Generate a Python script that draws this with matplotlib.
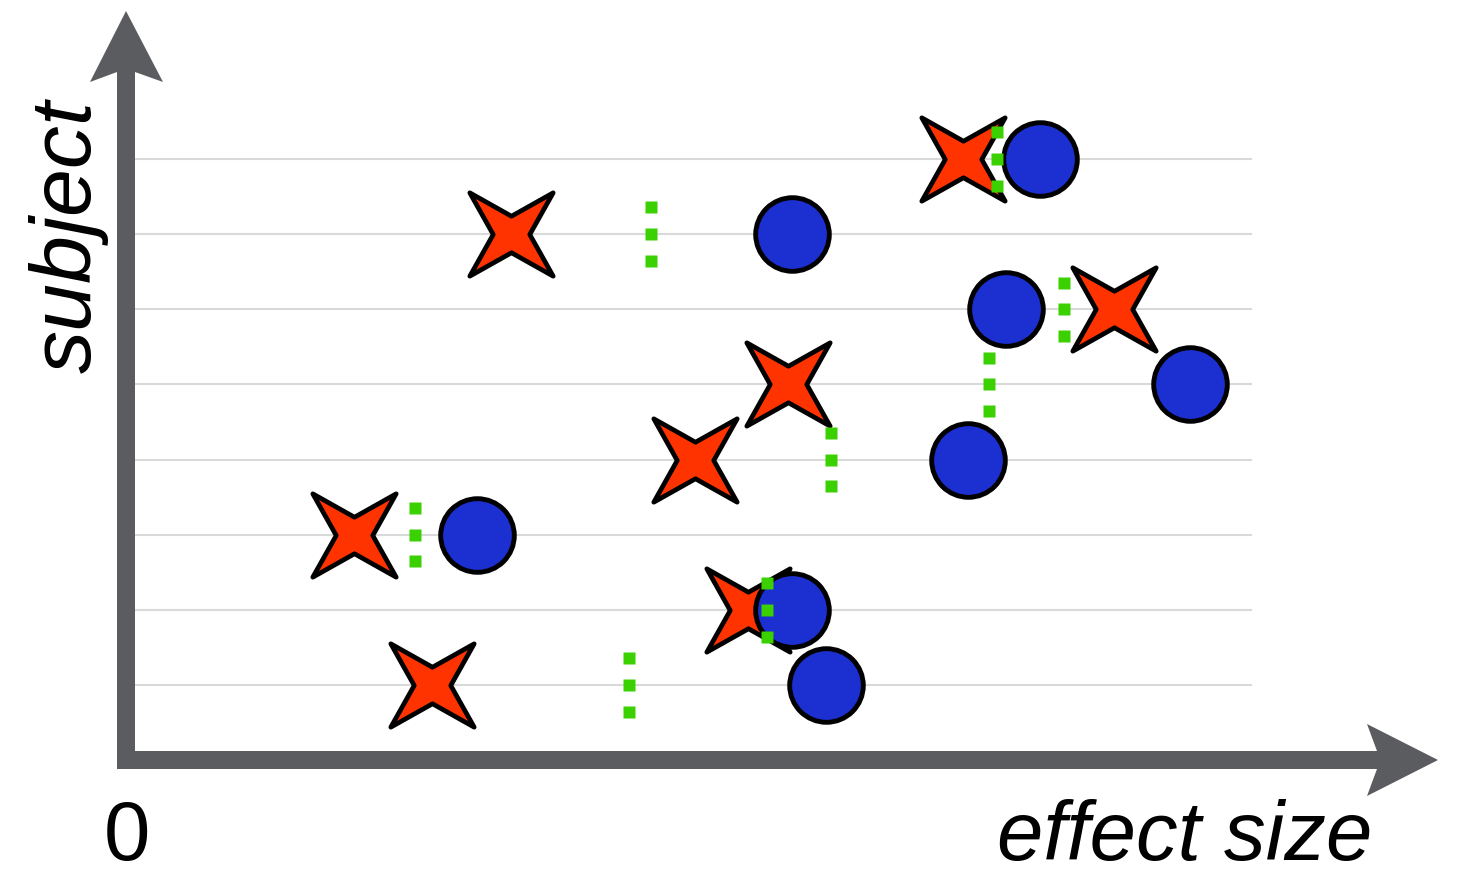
import numpy as np
import matplotlib
matplotlib.use('Agg')
import matplotlib.pyplot as plt
from matplotlib.path import Path
from matplotlib.patches import Polygon

# subject index 1 (bottom) .. 8 (top)
subjects = [1, 2, 3, 4, 5, 6, 7, 8]
# effect sizes (0 at the y axis)
star_effect = [3.06, 6.22, 2.28, 5.69, 6.62, 9.88, 3.85, 8.37]
circle_effect = [7.00, 6.66, 3.51, 8.42, 10.64, 8.80, 6.66, 9.14]
mean_effect = [5.03, 6.41, 2.89, 7.05, 8.63, 9.38, 5.25, 8.71]

W, H = 1461, 879
fig = plt.figure(figsize=(W / 100, H / 100), dpi=100)

# data axes fills the figure: 100 px per effect unit, ~75 px per subject
ax = fig.add_axes([0, 0, 1, 1])
ax.set_xlim(-1.26, (W - 126) / 100)
ystep = (686 - 160) / 7
ax.set_ylim(1 - (H - 686) / ystep, 1 + 686 / ystep)
ax.axis('off')

ax.hlines(subjects, 0.09, 11.26, color='#d9d9d9', lw=1.5, zorder=1)

# four pointed star marker
ang = np.deg2rad(45 + 45 * np.arange(8))
rad = np.where(np.arange(8) % 2 == 0, 1.0, 0.31)
verts = np.column_stack([rad * np.cos(ang), rad * np.sin(ang)])
verts = np.vstack([verts, verts[:1]])
codes = [Path.MOVETO] + [Path.LINETO] * 7 + [Path.CLOSEPOLY]
star = Path(verts, codes)

ax.plot(star_effect, subjects, ls='none', marker=star, ms=60,
        mfc='#ff3300', mec='black', mew=3.4, zorder=3)
ax.plot(circle_effect, subjects, ls='none', marker='o', ms=53,
        mfc='#1c2fd0', mec='black', mew=3.5, zorder=4)

# green dotted mean marks
for off in (-0.355, 0, 0.355):
    ax.plot(mean_effect, np.array(subjects) + off, ls='none', marker='s',
            ms=9, mfc='#3bd000', mec='none', zorder=5)

# overlay in pixel coordinates for the arrows and labels
ov = fig.add_axes([0, 0, 1, 1], facecolor='none')
ov.set_xlim(0, W)
ov.set_ylim(H, 0)
ov.axis('off')
grey = '#5b5c60'
ov.add_patch(Polygon([(117, 770), (135, 770), (135, 73), (163, 83), (126, 12),
                      (90, 83), (117, 73)], closed=True, color=grey, lw=0))
ov.add_patch(Polygon([(117, 752), (1377, 752), (1367, 725), (1438, 761),
                      (1367, 797), (1377, 770), (117, 770)], closed=True,
                     color=grey, lw=0))

font = 'Liberation Sans'
ov.text(1372, 877, 'effect size', fontsize=60, style='italic', family=font,
        ha='right', va='bottom')
ov.text(104, 877, '0', fontsize=60, family=font, ha='left', va='bottom')
ov.text(69, 237, 'subject', fontsize=62, style='italic', family=font,
        rotation=90, ha='center', va='center')

fig.savefig('out.png', dpi=100)
